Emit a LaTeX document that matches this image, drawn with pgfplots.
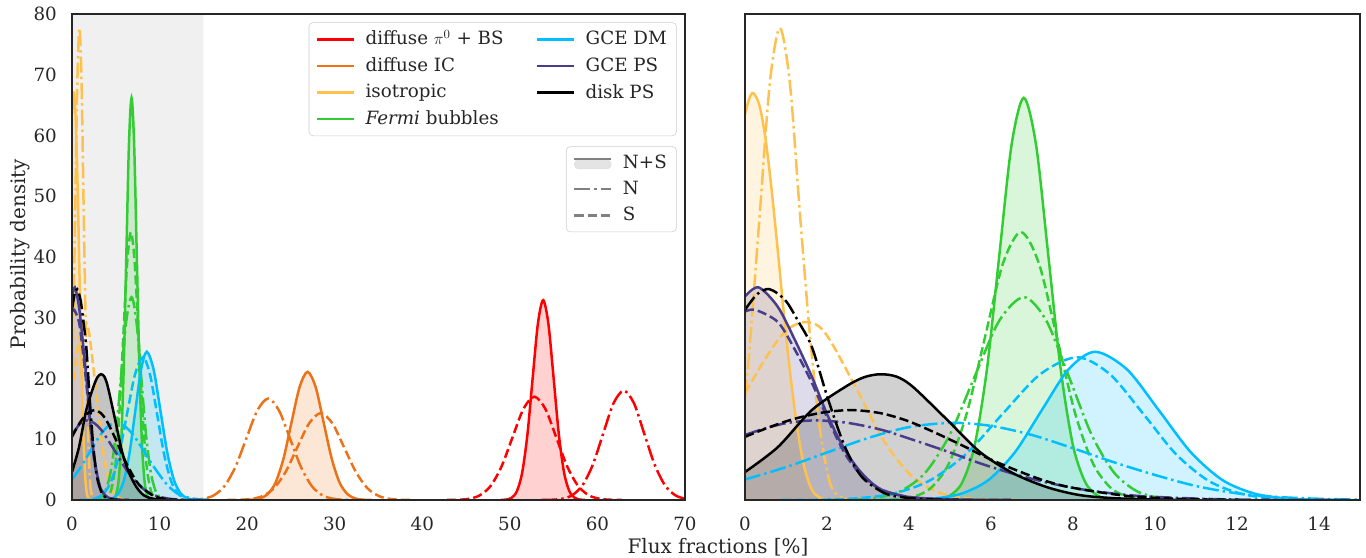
\documentclass[border=0pt]{standalone}
\usepackage{fontspec}
\setmainfont{DejaVu Serif}
\usepackage{pgfplots}
\pgfplotsset{compat=1.18}
\usepackage{pgfplotstable}

\definecolor{cRed}{RGB}{255,0,0}
\definecolor{cIC}{RGB}{236,114,24}
\definecolor{cIso}{RGB}{255,193,77}
\definecolor{cFB}{RGB}{50,205,50}
\definecolor{cDM}{RGB}{0,191,255}
\definecolor{cPS}{RGB}{72,61,139}
\definecolor{cDisk}{RGB}{0,0,0}
\definecolor{frame}{RGB}{38,38,38}
\definecolor{shade}{RGB}{240,240,240}

% ---------------- data ----------------
\pgfplotstableread{
x y
0 63.5
0.1 66.0
0.2 67.0
0.35 65.0
0.5 59.5
0.65 51.0
0.8 41.0
0.95 30.5
1.1 21.0
1.25 13.0
1.4 6.8
1.55 3.0
1.7 1.0
1.9 0.2
2.2 0
}\isoNS
\pgfplotstableread{
x y
0 17.2
0.115 25.2
0.36 47.1
0.605 68.6
0.85 77.7
1.095 68.6
1.34 47.1
1.585 27.0
1.83 11.5
2.075 2.8
2.32 0.5
2.6 0
}\isoN
\pgfplotstableread{
x y
0 17.6
0.4 22.2
0.8 26.3
1.1 28.4
1.46 29.3
1.8 28.6
2.11 25.9
2.76 17.8
3.41 9.5
4.06 3.96
4.71 1.29
5.36 0.33
6.0 0.06
6.7 0
}\isoS
\pgfplotstableread{
x y
4.4 0.02
4.7 0.15
5.0 0.73
5.3 2.91
5.6 8.96
5.9 21.5
6.2 40.1
6.5 58.4
6.8 66.2
7.1 58.4
7.4 40.1
7.7 21.5
8.0 8.96
8.3 2.91
8.6 0.73
8.9 0.15
9.2 0.02
}\fbNS
\pgfplotstableread{
x y
2.0 0.01
2.6 0.07
3.2 0.37
3.8 1.47
4.4 4.52
5.0 10.8
5.6 20.3
6.2 29.5
6.8 33.4
7.35 29.5
7.9 20.3
8.45 10.8
9.0 4.52
9.55 1.47
10.1 0.37
10.65 0.07
11.2 0.01
}\fbN
\pgfplotstableread{
x y
3.21 0.01
3.65 0.10
4.09 0.49
4.53 1.94
4.97 5.97
5.41 14.3
5.85 26.7
6.29 38.9
6.73 44.1
7.17 38.9
7.61 26.7
8.05 14.3
8.49 5.97
8.93 1.94
9.37 0.49
9.81 0.10
10.25 0.01
}\fbS
\pgfplotstableread{
x y
3.34 0.01
3.99 0.05
4.64 0.27
5.29 1.07
5.94 3.30
6.59 7.92
7.24 14.8
7.89 21.5
8.54 24.4
9.315 21.5
10.09 14.8
10.865 7.92
11.64 3.30
12.415 1.07
13.19 0.27
13.965 0.05
14.74 0.01
}\dmNS
\pgfplotstableread{
x y
0 3.37
1.0 5.41
2.0 7.82
3.0 10.2
4.0 12.0
5.05 12.7
6.0 12.2
7.0 10.7
8.0 8.52
9.0 6.21
10.0 4.12
11.0 2.3
12.0 1.1
13.0 0.5
14.0 0.2
15.0 0.07
16.0 0.02
}\dmN
\pgfplotstableread{
x y
0.9 0.01
1.8 0.05
2.7 0.26
3.6 1.03
4.5 3.18
5.4 7.63
6.3 14.3
7.2 20.7
8.1 23.5
8.9 20.7
9.7 14.3
10.5 7.63
11.3 3.18
12.1 1.03
12.9 0.26
13.7 0.05
14.5 0.01
}\dmS
\pgfplotstableread{
x y
0 33.5
0.33 35.0
0.8 31.8
1.22 26.3
1.63 20.3
2.03 13.7
2.44 8.2
2.85 4.4
3.3 1.8
3.9 0.6
4.6 0.2
5.5 0.05
6.5 0
}\psNS
\pgfplotstableread{
x y
0 10.7
0.4 11.6
1.0 12.65
1.7 13.1
2.5 12.7
3.325 11.56
4.1 9.9
4.95 7.95
5.75 6.0
6.575 4.25
7.4 2.82
8.2 1.77
9.0 1.05
9.825 0.575
11.45 0.145
13.075 0.03
14.7 0.004
}\psN
\pgfplotstableread{
x y
0 31.0
0.25 31.3
0.8 29.3
1.22 24.7
1.63 19.3
2.03 13.2
2.44 7.6
2.85 4.0
3.3 1.8
3.9 0.6
4.6 0.2
5.5 0.05
6.5 0
}\psS
\pgfplotstableread{
x y
0 4.6
0.8 8.7
1.63 14.8
2.44 18.6
2.9 20.2
3.3 20.7
3.7 20.3
4.1 18.6
4.93 13.2
5.73 7.9
6.54 4.4
7.37 2.1
8.17 0.8
9.0 0.3
10.0 0.08
11.0 0.01
}\diskNS
\pgfplotstableread{
x y
0 31.3
0.3 33.9
0.6 34.7
0.98 32.9
1.3 29.4
1.63 25.2
2.03 16.5
2.44 8.7
2.85 3.8
3.41 1.1
3.9 0.4
4.5 0.1
5.2 0.02
}\diskN
\pgfplotstableread{
x y
0 10.4
0.6 12.0
1.2 13.35
1.9 14.4
2.6 14.8
3.3 14.3
3.95 13.06
4.6 11.2
5.3 8.98
5.95 6.8
6.65 4.81
7.3 3.2
8.0 2.0
9.35 0.65
10.7 0.16
12.05 0.03
}\diskS
\pgfplotstableread{
x y
19.58 0.01
20.5 0.05
21.41 0.23
22.33 0.93
23.24 2.85
24.16 6.85
25.07 12.8
25.99 18.6
26.9 21.1
27.82 18.6
28.73 12.8
29.65 6.85
30.56 2.85
31.48 0.93
32.39 0.23
33.31 0.05
34.22 0.01
}\icNS
\pgfplotstableread{
x y
12.4 0.01
13.65 0.04
14.9 0.19
16.15 0.73
17.4 2.26
18.65 5.42
19.9 10.1
21.15 14.7
22.4 16.7
23.65 14.7
24.9 10.1
26.15 5.42
27.4 2.26
28.65 0.73
29.9 0.19
31.15 0.04
32.4 0.01
}\icN
\pgfplotstableread{
x y
17.72 0.0
19.06 0.03
20.39 0.16
21.73 0.63
23.06 1.93
24.4 4.64
25.73 8.67
27.07 12.6
28.4 14.3
29.74 12.6
31.07 8.67
32.41 4.64
33.74 1.93
35.08 0.63
36.41 0.16
37.75 0.03
39.08 0.0
}\icS
\pgfplotstableread{
x y
49.0 0.01
49.6 0.07
50.2 0.37
50.8 1.44
51.4 4.45
52.0 10.7
52.6 20.0
53.2 29.0
53.8 32.9
54.4 29.0
55.0 20.0
55.6 10.7
56.2 4.45
56.8 1.44
57.4 0.37
58.0 0.07
58.6 0.01
}\piNS
\pgfplotstableread{
x y
53.6 0.01
54.78 0.04
55.95 0.20
57.13 0.79
58.3 2.44
59.48 5.84
60.65 10.9
61.83 15.9
63.0 18.0
64.18 15.9
65.35 10.9
66.53 5.84
67.7 2.44
68.88 0.79
70.05 0.20
71.23 0.04
}\piN
\pgfplotstableread{
x y
42.8 0.01
44.05 0.04
45.3 0.19
46.55 0.75
47.8 2.30
49.05 5.52
50.3 10.3
51.55 15.0
52.8 17.0
54.05 15.0
55.3 10.3
56.55 5.52
57.8 2.30
59.05 0.75
60.3 0.19
61.55 0.04
62.8 0.01
}\piS

\pgfplotsset{
  nsl/.style={line width=1.8pt},
  nnl/.style={line width=1.8pt, dash pattern=on 11.5pt off 2.9pt on 1.8pt off 2.9pt},
  ssl/.style={line width=1.8pt, dash pattern=on 6.7pt off 2.9pt},
  base/.style={scale only axis, height=4.86in, ymin=0, ymax=80,
    axis line style={color=frame, line width=1.5pt},
    major tick length=0pt,
    tick label style={color=frame, font=\fontsize{13.2}{15.8}\selectfont},
    xticklabel style={yshift=-7pt},
    yticklabel style={xshift=-6pt},
    /pgf/number format/assume math mode=true,
    axis on top},
  mylegend/.style={legend style={draw=black!20, rounded corners=3pt, fill=white,
    fill opacity=0.8, text opacity=1, font=\fontsize{13.2}{15.8}\selectfont,
    text=frame, row sep=3pt, inner xsep=5pt, inner ysep=4pt},
    legend cell align=left,
    legend image code/.code={\draw (0cm,0cm) -- (0.93cm,0cm);}}
}
\newcommand{\fillc}[2]{\addplot[draw=none, fill=#1, fill opacity=0.18, smooth, forget plot] table {#2} \closedcycle;}
\newcommand{\linec}[3]{\addplot[#1, #2, smooth, forget plot] table {#3};}

\begin{document}
\fontsize{14.4}{17}\selectfont
\begin{tikzpicture}
\path[use as bounding box] (0,0) rectangle (13.66in,5.58in);

% ---------------- left panel ----------------
\begin{axis}[base, at={(0.72in,0.58in)}, anchor=south west, width=6.13in,
  xmin=0, xmax=70, xtick={0,10,...,70}, ytick={0,10,...,80},
  mylegend, legend columns=2,
  legend style={at={(0.9865,0.983)}, anchor=north east},
  /tikz/every odd column/.append style={column sep=0.2cm},
  /tikz/every even column/.append style={column sep=0.75cm}]
\addplot[fill=shade, draw=none, forget plot] coordinates {(0,0) (0,80) (15,80) (15,0)} \closedcycle;
\fillc{cRed}{\piNS}
\fillc{cIC}{\icNS}
\fillc{cIso}{\isoNS}
\fillc{cFB}{\fbNS}
\fillc{cDM}{\dmNS}
\fillc{cPS}{\psNS}
\fillc{cDisk}{\diskNS}
\linec{cRed}{nsl}{\piNS}\linec{cRed}{nnl}{\piN}\linec{cRed}{ssl}{\piS}
\linec{cIC}{nsl}{\icNS}\linec{cIC}{nnl}{\icN}\linec{cIC}{ssl}{\icS}
\linec{cIso}{nsl}{\isoNS}\linec{cIso}{nnl}{\isoN}\linec{cIso}{ssl}{\isoS}
\linec{cFB}{nsl}{\fbNS}\linec{cFB}{nnl}{\fbN}\linec{cFB}{ssl}{\fbS}
\linec{cDM}{nsl}{\dmNS}\linec{cDM}{nnl}{\dmN}\linec{cDM}{ssl}{\dmS}
\linec{cPS}{nsl}{\psNS}\linec{cPS}{nnl}{\psN}\linec{cPS}{ssl}{\psS}
\linec{cDisk}{nsl}{\diskNS}\linec{cDisk}{nnl}{\diskN}\linec{cDisk}{ssl}{\diskS}
\addlegendimage{cRed, nsl}\addlegendentry{diffuse $\pi^0$ + BS}
\addlegendimage{cDM, nsl}\addlegendentry{GCE DM}
\addlegendimage{cIC, nsl}\addlegendentry{diffuse IC}
\addlegendimage{cPS, nsl}\addlegendentry{GCE PS}
\addlegendimage{cIso, nsl}\addlegendentry{isotropic}
\addlegendimage{cDisk, nsl}\addlegendentry{disk PS}
\addlegendimage{cFB, nsl}\addlegendentry{\textit{Fermi} bubbles}
\addlegendimage{empty legend}\addlegendentry{}
\end{axis}

% second legend (N+S / N / S)
\begin{axis}[at={(0.72in,0.58in)}, anchor=south west, scale only axis,
  width=6.13in, height=4.86in, hide axis, xmin=0, xmax=1, ymin=0, ymax=1,
  mylegend, legend style={at={(0.9865,0.728)}, anchor=north east},
  /tikz/every odd column/.append style={column sep=0.2cm}]
\addlegendimage{legend image code/.code={\fill[black!13] (0cm,-0.15cm) rectangle (0.93cm,0.08cm); \draw[gray, line width=1.8pt] (0cm,0.1cm) -- (0.93cm,0.1cm);}}
\addlegendentry{N+S}
\addlegendimage{gray, nnl}\addlegendentry{N}
\addlegendimage{gray, ssl}\addlegendentry{S}
\end{axis}

% ---------------- right panel ----------------
\begin{axis}[base, at={(7.45in,0.58in)}, anchor=south west, width=6.15in,
  xmin=0, xmax=15, xtick={0,2,...,14}, ytick=\empty]
\fillc{cIso}{\isoNS}
\fillc{cFB}{\fbNS}
\fillc{cDM}{\dmNS}
\fillc{cPS}{\psNS}
\fillc{cDisk}{\diskNS}
\linec{cIso}{nsl}{\isoNS}\linec{cIso}{nnl}{\isoN}\linec{cIso}{ssl}{\isoS}
\linec{cFB}{nsl}{\fbNS}\linec{cFB}{nnl}{\fbN}\linec{cFB}{ssl}{\fbS}
\linec{cDM}{nsl}{\dmNS}\linec{cDM}{nnl}{\dmN}\linec{cDM}{ssl}{\dmS}
\linec{cPS}{nsl}{\psNS}\linec{cPS}{nnl}{\psN}\linec{cPS}{ssl}{\psS}
\linec{cDisk}{nsl}{\diskNS}\linec{cDisk}{nnl}{\diskN}\linec{cDisk}{ssl}{\diskS}
\end{axis}

\node[text=frame] at (7.18in,0.11in) {Flux fractions [\%]};
\node[text=frame, rotate=90] at (0.20in,3.04in) {Probability density};
\end{tikzpicture}
\end{document}
